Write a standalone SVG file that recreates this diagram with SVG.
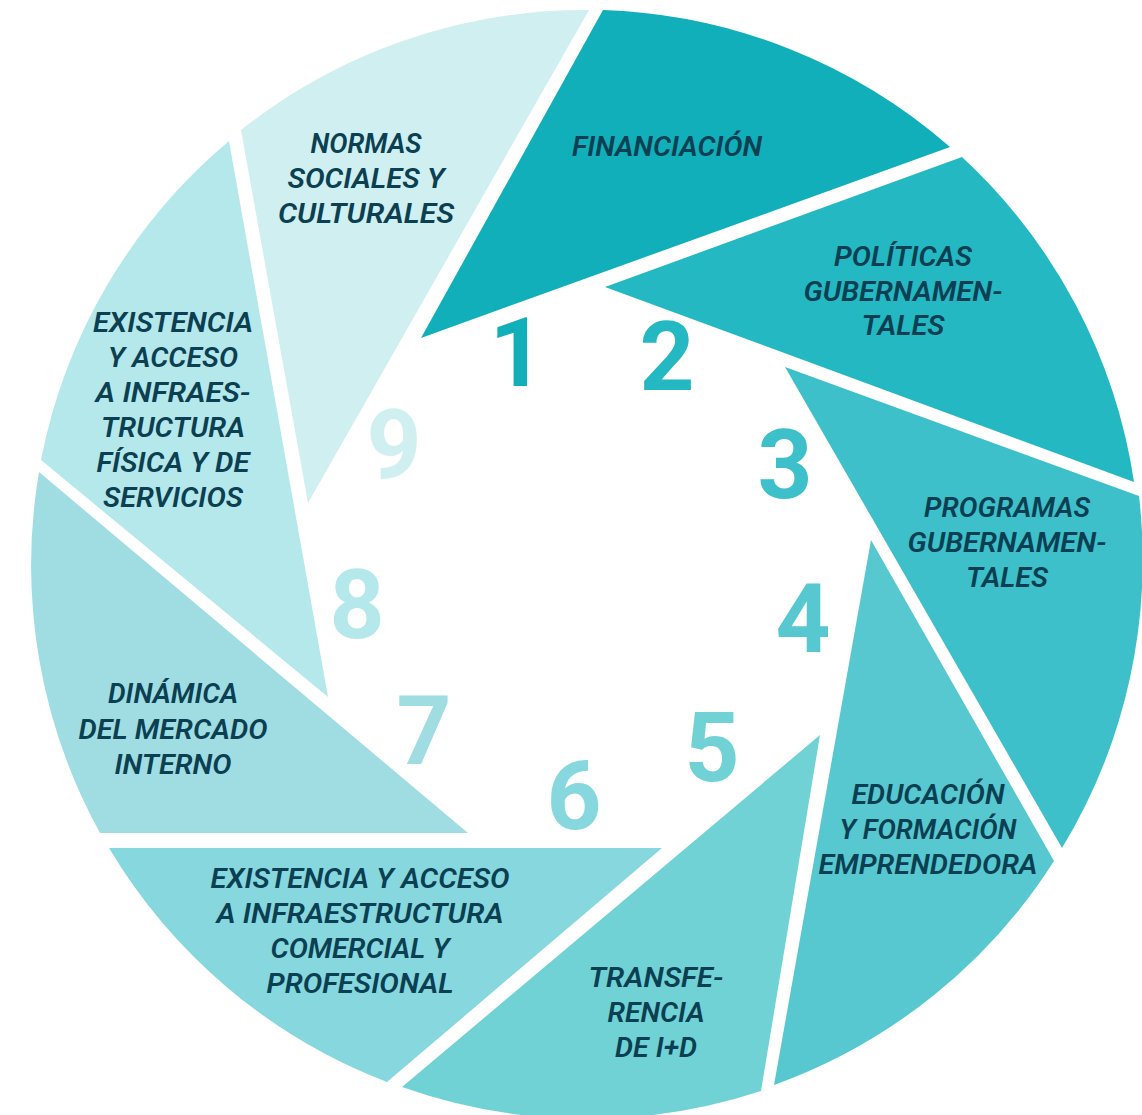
<svg xmlns="http://www.w3.org/2000/svg" width="1142" height="1115" viewBox="0 0 1142 1115">
<style>
.lbl{font-family:Roboto,"Liberation Sans",sans-serif;font-style:italic;font-weight:600;font-size:28px;fill:#0B3F52;text-anchor:middle}
.num{font-family:Roboto,"Liberation Sans",sans-serif;font-weight:700;font-size:96px;text-anchor:middle}
</style>
<rect width="1142" height="1115" fill="#ffffff"/>
<g id="connectors"/>
<g id="node1">
<path d="M421,338 L603,10 A555,555 0 0 1 950,147 Z" fill="#10AFBA"/>
<text class="lbl" x="667" y="156" textLength="190" lengthAdjust="spacingAndGlyphs">FINANCIACIÓN</text>
<text class="num" x="517" y="386" fill="#10AFBA">1</text>
</g>
<g id="node2">
<path d="M605,287 L962,157 A555,555 0 0 1 1134,482 Z" fill="#24B8C2"/>
<text class="lbl" x="903" y="266" textLength="138" lengthAdjust="spacingAndGlyphs">POLÍTICAS</text>
<text class="lbl" x="903" y="301" textLength="199" lengthAdjust="spacingAndGlyphs">GUBERNAMEN-</text>
<text class="lbl" x="903" y="335" textLength="83" lengthAdjust="spacingAndGlyphs">TALES</text>
<text class="num" x="667" y="390" fill="#24B8C2">2</text>
</g>
<g id="node3">
<path d="M785,367 L1139,496 A555,555 0 0 1 1062,848 Z" fill="#3DC0CA"/>
<text class="lbl" x="1007" y="517" textLength="166" lengthAdjust="spacingAndGlyphs">PROGRAMAS</text>
<text class="lbl" x="1007" y="552" textLength="199" lengthAdjust="spacingAndGlyphs">GUBERNAMEN-</text>
<text class="lbl" x="1007" y="587" textLength="82" lengthAdjust="spacingAndGlyphs">TALES</text>
<text class="num" x="785" y="498" fill="#3DC0CA">3</text>
</g>
<g id="node4">
<path d="M871,540 L1054,861 A555,555 0 0 1 774,1085 Z" fill="#57C8D0"/>
<text class="lbl" x="928" y="804" textLength="153" lengthAdjust="spacingAndGlyphs">EDUCACIÓN</text>
<text class="lbl" x="928" y="839" textLength="177" lengthAdjust="spacingAndGlyphs">Y FORMACIÓN</text>
<text class="lbl" x="928" y="874" textLength="219" lengthAdjust="spacingAndGlyphs">EMPRENDEDORA</text>
<text class="num" x="803" y="652" fill="#57C8D0">4</text>
</g>
<g id="node5">
<path d="M820,735 L761,1091 A555,555 0 0 1 402,1087 Z" fill="#71D2D6"/>
<text class="lbl" x="656" y="987" textLength="135" lengthAdjust="spacingAndGlyphs">TRANSFE-</text>
<text class="lbl" x="656" y="1022" textLength="97" lengthAdjust="spacingAndGlyphs">RENCIA</text>
<text class="lbl" x="656" y="1057" textLength="82" lengthAdjust="spacingAndGlyphs">DE I+D</text>
<text class="num" x="712" y="781" fill="#71D2D6">5</text>
</g>
<g id="node6">
<path d="M662,848 L387,1082 A555,555 0 0 1 109,848 Z" fill="#87D7DF"/>
<text class="lbl" x="360" y="888" textLength="299" lengthAdjust="spacingAndGlyphs">EXISTENCIA Y ACCESO</text>
<text class="lbl" x="360" y="923" textLength="287" lengthAdjust="spacingAndGlyphs">A INFRAESTRUCTURA</text>
<text class="lbl" x="360" y="958" textLength="179" lengthAdjust="spacingAndGlyphs">COMERCIAL Y</text>
<text class="lbl" x="360" y="993" textLength="187" lengthAdjust="spacingAndGlyphs">PROFESIONAL</text>
<text class="num" x="574" y="829" fill="#87D7DF">6</text>
</g>
<g id="node7">
<path d="M468,833 L100,833 A555,555 0 0 1 39,472 Z" fill="#A0DDE3"/>
<text class="lbl" x="173" y="703" textLength="130" lengthAdjust="spacingAndGlyphs">DINÁMICA</text>
<text class="lbl" x="173" y="739" textLength="189" lengthAdjust="spacingAndGlyphs">DEL MERCADO</text>
<text class="lbl" x="173" y="774" textLength="117" lengthAdjust="spacingAndGlyphs">INTERNO</text>
<text class="num" x="424" y="764" fill="#A0DDE3">7</text>
</g>
<g id="node8">
<path d="M328,697 L41,460 A555,555 0 0 1 229,141 Z" fill="#B5E8EB"/>
<text class="lbl" x="173" y="332" textLength="160" lengthAdjust="spacingAndGlyphs">EXISTENCIA</text>
<text class="lbl" x="173" y="367" textLength="130" lengthAdjust="spacingAndGlyphs">Y ACCESO</text>
<text class="lbl" x="173" y="402" textLength="155" lengthAdjust="spacingAndGlyphs">A INFRAES-</text>
<text class="lbl" x="173" y="437" textLength="144" lengthAdjust="spacingAndGlyphs">TRUCTURA</text>
<text class="lbl" x="173" y="472" textLength="153" lengthAdjust="spacingAndGlyphs">FÍSICA Y DE</text>
<text class="lbl" x="173" y="507" textLength="140" lengthAdjust="spacingAndGlyphs">SERVICIOS</text>
<text class="num" x="357" y="638" fill="#B5E8EB">8</text>
</g>
<g id="node9">
<path d="M308,503 L241,130 A555,555 0 0 1 589,10 Z" fill="#CFEFF1"/>
<text class="lbl" x="366" y="153" textLength="111" lengthAdjust="spacingAndGlyphs">NORMAS</text>
<text class="lbl" x="366" y="188" textLength="157" lengthAdjust="spacingAndGlyphs">SOCIALES Y</text>
<text class="lbl" x="366" y="223" textLength="176" lengthAdjust="spacingAndGlyphs">CULTURALES</text>
<text class="num" x="394" y="478" fill="#CFEFF1">9</text>
</g>
</svg>
